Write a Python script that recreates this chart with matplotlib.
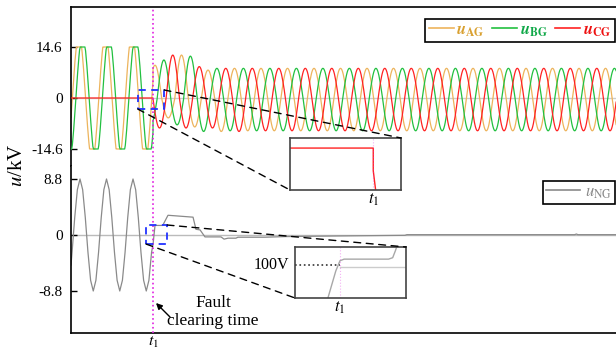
import numpy as np
import matplotlib
matplotlib.use('Agg')
import matplotlib.pyplot as plt
from matplotlib.patches import Rectangle, ConnectionPatch
from matplotlib.lines import Line2D

plt.rcParams['font.family'] = ['Liberation Serif', 'DejaVu Serif']
plt.rcParams['mathtext.fontset'] = 'stix'

# ---------------- data ----------------
period_ms = 20.0
t_end = 411.3
t1 = 61.9                      # fault clearing time (ms)

# pre-fault phase-to-ground voltages (kV): flat-topped at +-14.6
pre_ag_peak_t = 6.0
pre_bg_peak_t = 8.7
pre_amp = 18.0
pre_clip = 14.6
# pre-fault neutral voltage
pre_ng_peak_t = 6.8
pre_ng_amp = 8.8

# post-fault: time of first positive peak and successive half-cycle peaks (kV)
post_ag_peak_t = 63.4
post_bg_peak_t = 70.1
post_cg_peak_t = 76.8
ag_pos_peaks = [9.4, 12.3, 8.0, 8.5]
ag_neg_peaks = [5.7, 8.3, 9.6, 9.4]
bg_pos_peaks = [10.9, 12.0, 8.5]
bg_neg_peaks = [7.7, 9.6, 9.4]
cg_pos_peaks = [12.3, 9.0, 8.5]
cg_neg_peaks = [8.6, 8.6, 9.6, 9.4]

# post-fault neutral voltage breakpoints (ms, kV)
ng_post_t = [61.9, 63.4, 69.2, 73.2, 92.1, 94.3, 97.4, 101.1, 113.2, 115.5,
             118.5, 124.5, 126.0, 146.4, 161.5, 203.0, 252.0, 253.5, 380.0,
             381.5, 382.5, 411.3]
ng_post_v = [-1.5, 1.5, 1.5, 3.1, 2.8, 0.9, 0.8, -0.3, -0.3, -0.65,
             -0.5, -0.5, -0.35, -0.35, -0.25, -0.15, -0.05, 0.05, 0.05,
             0.15, 0.05, 0.05]

# zoomed neutral voltage around t1 (ms relative to t1, kV)
ng_zoom_t = [-0.45, -0.3, -0.15, 0.0, 0.15, 1.75, 1.9, 2.0, 2.1]
ng_zoom_v = [-1.6, -0.9, -0.2, 0.3, 0.38, 0.38, 0.45, 0.8, 1.2]
level_100V = 0.1

top_ticks = [14.6, 0, -14.6]
top_ticklabels = ['14.6', '0', '-14.6']
bot_ticks = [8.8, 0, -8.8]
bot_ticklabels = ['8.8', '0', '-8.8']

c_ag, c_bg, c_cg, c_ng = '#EDB45C', '#22C040', '#FF2222', '#8A8A8A'
txt_ag, txt_bg, txt_cg, txt_ng = '#D9A030', '#10A848', '#EE1010', '#8A8A8A'

# ---------------- build series ----------------
t_pre = np.append(np.arange(0, t1, 0.5), t1)
t_post = np.arange(t1, t_end + 0.5, 0.5)


def pre_wave(t, tp):
    return np.clip(pre_amp * np.cos(2 * np.pi * (t - tp) / period_ms), -pre_clip, pre_clip)


def post_wave(t, tp, pos, neg):
    s = np.cos(2 * np.pi * (t - tp) / period_ms)
    kp = np.clip(np.round((t - tp) / period_ms).astype(int), 0, len(pos) - 1)
    kn = np.clip(np.round((t - tp - period_ms / 2) / period_ms).astype(int), 0, len(neg) - 1)
    return np.where(s >= 0, s * np.array(pos)[kp], s * np.array(neg)[kn])


t_all = np.concatenate([t_pre, t_post])
u_ag = np.concatenate([pre_wave(t_pre, pre_ag_peak_t),
                       post_wave(t_post, post_ag_peak_t, ag_pos_peaks, ag_neg_peaks)])
u_bg = np.concatenate([pre_wave(t_pre, pre_bg_peak_t),
                       post_wave(t_post, post_bg_peak_t, bg_pos_peaks, bg_neg_peaks)])
u_cg = np.concatenate([np.zeros_like(t_pre),
                       post_wave(t_post, post_cg_peak_t, cg_pos_peaks, cg_neg_peaks)])

t_ng_pre = np.concatenate([[0.0], np.arange(pre_ng_peak_t % 2.0, t1, 2.0)])
u_ng_pre = pre_ng_amp * np.cos(2 * np.pi * (t_ng_pre - pre_ng_peak_t) / period_ms)
t_ng = np.concatenate([t_ng_pre, ng_post_t])
u_ng = np.concatenate([u_ng_pre, ng_post_v])

# ---------------- figure ----------------
W, H = 616, 350
fig = plt.figure(figsize=(W / 100, H / 100), dpi=100)
ax_top = fig.add_axes([71 / W, 1 - 166 / H, 545 / W, 159 / H])
ax_bot = fig.add_axes([71 / W, 1 - 333 / H, 545 / W, 167 / H])

for ax in (ax_top, ax_bot):
    ax.set_xlim(0, t_end)
    ax.spines['right'].set_visible(False)
    for s in ('left', 'top', 'bottom'):
        ax.spines[s].set_linewidth(1.2)
    ax.tick_params(axis='y', direction='in', length=4, width=1, labelsize=11, pad=6)
    ax.axvline(t1, color='#E020E0', ls=':', lw=1.2, zorder=5)

ax_top.spines['bottom'].set_visible(False)
ax_bot.spines['top'].set_visible(False)
ax_top.set_ylim(-19.47, 26.05)
ax_bot.set_ylim(-15.4, 10.84)
ax_top.set_xticks([])
ax_bot.set_xticks([t1])
ax_bot.set_xticklabels(['$t_1$'], fontsize=11.5)
ax_bot.tick_params(axis='x', length=0, pad=1)
ax_top.set_yticks(top_ticks)
ax_top.set_yticklabels(top_ticklabels)
ax_bot.set_yticks(bot_ticks)
ax_bot.set_yticklabels(bot_ticklabels)

# top panel
ax_top.axhline(0, color='#CCCCCC', lw=1, zorder=1)
ax_top.plot(t_all, u_ag, color=c_ag, lw=0.9, zorder=2)
ax_top.plot(t_all, u_bg, color=c_bg, lw=0.9, zorder=3)
ax_top.plot(t_all, u_cg, color=c_cg, lw=0.9, zorder=4)

# bottom panel
ax_bot.axhline(0, color='#BBBBBB', lw=1, zorder=1)
ax_bot.plot(t_ng, u_ng, color=c_ng, lw=0.9, zorder=2)

# legends
h1 = [Line2D([], [], color=c, lw=1.2) for c in (c_ag, c_bg, c_cg)]
leg1 = fig.legend(h1, [r'$\mathbfit{u}_{\mathbf{AG}}$', r'$\mathbfit{u}_{\mathbf{BG}}$',
                       r'$\mathbfit{u}_{\mathbf{CG}}$'],
                  loc='upper right', bbox_to_anchor=(615 / W, 1 - 19 / H), ncol=3,
                  fancybox=False, edgecolor='k', framealpha=1, fontsize=12,
                  handlelength=1.5, handletextpad=0.15, columnspacing=0.45,
                  borderpad=0.2, borderaxespad=0)
leg1.get_frame().set_linewidth(1.2)
for txt, c in zip(leg1.get_texts(), (txt_ag, txt_bg, txt_cg)):
    txt.set_color(c)

leg2 = fig.legend([Line2D([], [], color=c_ng, lw=1.2)], [r'$u_{\mathrm{NG}}$'],
                  loc='upper right', bbox_to_anchor=(615 / W, 1 - 181 / H),
                  fancybox=False, edgecolor='k', framealpha=1, fontsize=12,
                  handlelength=2.0, handletextpad=0.3, borderpad=0.2, borderaxespad=0)
leg2.get_frame().set_linewidth(1.2)
leg2.get_texts()[0].set_color(txt_ng)

# zoom rectangles
ax_top.add_patch(Rectangle((50.3, -3.15), 19.9, 5.45, fill=False, edgecolor='#2233FF',
                           lw=1.3, ls=(0, (4, 3)), zorder=6))
ax_bot.add_patch(Rectangle((56.6, -1.42), 15.9, 2.99, fill=False, edgecolor='#2233FF',
                           lw=1.3, ls=(0, (4, 3)), zorder=6))

# inset 1
ins1 = fig.add_axes([290 / W, 1 - 190 / H, 111 / W, 52 / H])
ins1.plot(t_all, u_cg, color=c_cg, lw=1)
ins1.axvline(t1, color='#E020E0', ls=':', lw=0.8, alpha=0.35)
ins1.set_xlim(t1 - 3, t1 + 1)
ins1.set_ylim(-0.5, 0.12)
ins1.set_yticks([])
ins1.set_xticks([t1])
ins1.set_xticklabels(['$t_1$'], fontsize=12)
ins1.tick_params(axis='x', length=0, pad=1)
for s in ins1.spines.values():
    s.set_color('#444444')
    s.set_linewidth(1.2)

# inset 2
ins2 = fig.add_axes([295 / W, 1 - 298 / H, 111 / W, 51 / H])
ins2.plot(ng_zoom_t, ng_zoom_v, color='#A8A8A8', lw=1)
ins2.plot([0, 2.38], [0, 0], color='#CCCCCC', lw=1)
ins2.plot([-1.62, 0], [level_100V, level_100V], color='#333333', ls=':', lw=1.2)
ins2.axvline(0, color='#E020E0', ls=':', lw=0.8, alpha=0.35)
ins2.set_xlim(-1.62, 2.38)
ins2.set_ylim(-1.525, 0.975)
ins2.set_yticks([])
ins2.set_xticks([0])
ins2.set_xticklabels(['$t_1$'], fontsize=12)
ins2.tick_params(axis='x', length=0, pad=1)
for s in ins2.spines.values():
    s.set_color('#444444')
    s.set_linewidth(1.2)
fig.text(289 / W, 1 - 265 / H, '100V', ha='right', va='center', fontsize=11.5)

# connection lines
for xyA, axA, xyB, axB in [((70.2, 2.3), ax_top, (1, 1), ins1),
                           ((50.3, -3.15), ax_top, (0, 0), ins1),
                           ((72.5, 1.57), ax_bot, (1, 1), ins2),
                           ((56.6, -1.42), ax_bot, (0, 0), ins2)]:
    con = ConnectionPatch(xyA=xyA, coordsA=axA.transData, xyB=xyB, coordsB=axB.transAxes,
                          color='k', lw=1, ls=(0, (5, 4)), zorder=7)
    fig.add_artist(con)

# annotation
fig.text(213 / W, 1 - 312 / H, 'Fault\nclearing time', ha='center', va='center',
         fontsize=12.5, linespacing=1.15)
ax_bot.annotate('', xy=(156 / W, 1 - 303 / H), xycoords='figure fraction',
                xytext=(170 / W, 1 - 317 / H), textcoords='figure fraction',
                arrowprops=dict(arrowstyle='-|>', color='k', lw=1, shrinkA=0, shrinkB=0,
                                mutation_scale=9))

# y label
fig.text(18 / W, 1 - 165 / H, '$u$/kV', rotation=90, ha='center', va='center', fontsize=15)

fig.savefig('out.png', dpi=100)
